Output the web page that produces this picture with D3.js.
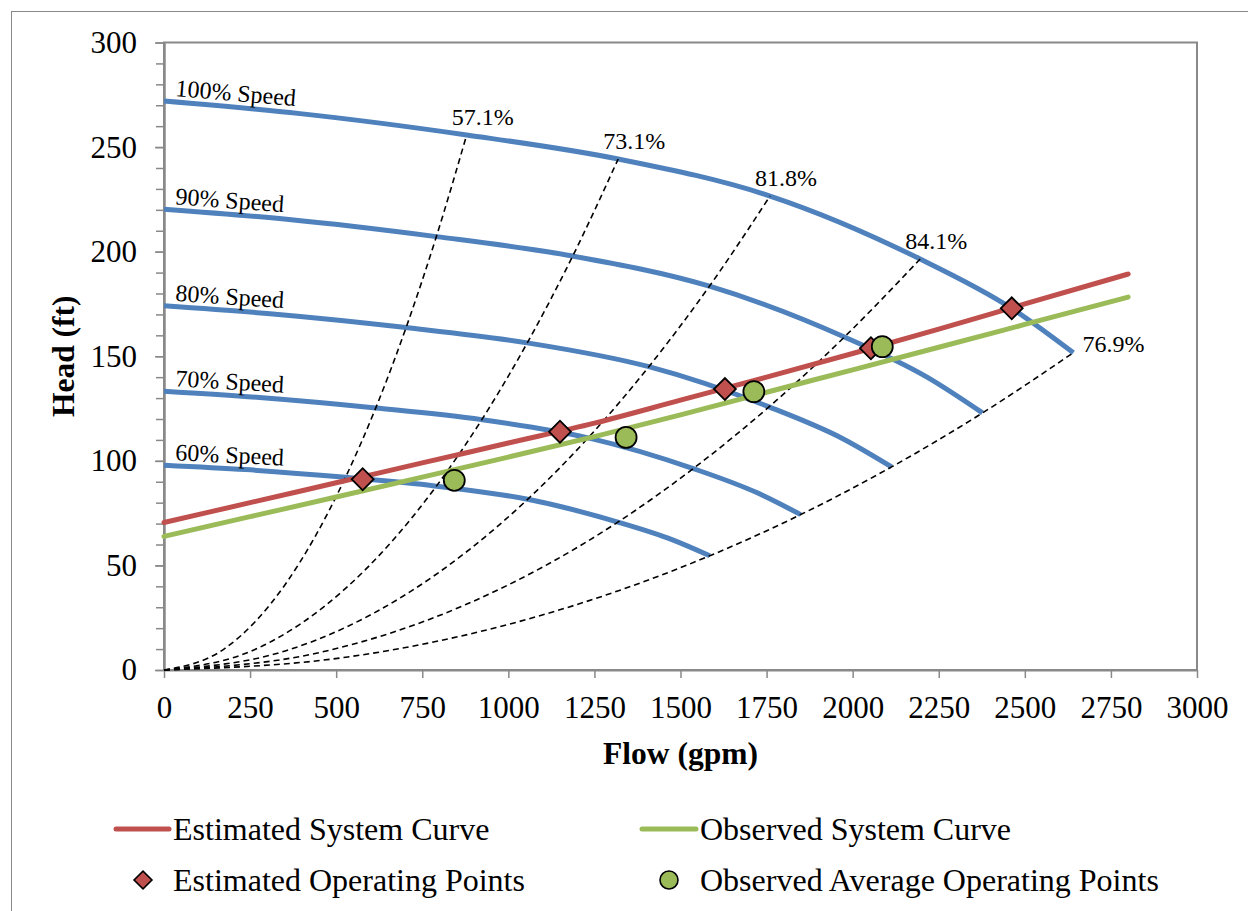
<!DOCTYPE html>
<html>
<head>
<meta charset="utf-8">
<script src="https://cdn.jsdelivr.net/npm/d3@7"></script>
<style>
    body { margin: 0; background: #fff; }
    svg text { font-family: "Liberation Serif", "Times New Roman", serif; fill: #000; }
</style>
</head>
<body>
<svg id="chart" width="1248" height="911"></svg>
<script>
// Pump speed curves (flow gpm / head ft)
const speedLabels = ['100% Speed', '90% Speed', '80% Speed', '70% Speed', '60% Speed'];
const flow100 = [0, 395, 879, 1319, 1760, 2196, 2462, 2641];
const head100 = [272, 266, 255.8, 244.3, 226.6, 196.5, 172.9, 151.7];
const flow90 = [0, 356, 791, 1187, 1584, 1976, 2216, 2377];
const head90 = [220.3, 215.5, 207.2, 197.9, 183.5, 159.2, 140.0, 122.9];
const flow80 = [0, 316, 703, 1055, 1408, 1757, 1970, 2113];
const head80 = [174.1, 170.2, 163.7, 156.4, 145.0, 125.8, 110.7, 97.1];
const flow70 = [0, 277, 615, 923, 1232, 1537, 1723, 1849];
const head70 = [133.3, 130.3, 125.3, 119.7, 111.0, 96.3, 84.7, 74.3];
const flow60 = [0, 237, 527, 791, 1056, 1318, 1477, 1585];
const head60 = [97.9, 95.8, 92.1, 87.9, 81.6, 70.7, 62.2, 54.6];

// Efficiency lines (dashed)
const effLabels = ['57.1%', '73.1%', '81.8%', '84.1%', '76.9%'];
const effFlow571 = [0, 176, 352, 527, 615, 703, 791, 879];
const effHead571 = [0, 10.2, 40.9, 92.1, 125.3, 163.7, 207.2, 255.8];
const effFlow731 = [0, 264, 528, 791, 923, 1055, 1187, 1319];
const effHead731 = [0, 9.8, 39.1, 87.9, 119.7, 156.4, 197.9, 244.3];
const effFlow818 = [0, 352, 704, 1056, 1232, 1408, 1584, 1760];
const effHead818 = [0, 9.1, 36.3, 81.6, 111.0, 145.0, 183.5, 226.6];
const effFlow841 = [0, 439, 878, 1318, 1537, 1757, 1976, 2196];
const effHead841 = [0, 7.9, 31.4, 70.7, 96.3, 125.8, 159.2, 196.5];
const effFlow769 = [0, 528, 1056, 1585, 1849, 2113, 2377, 2641];
const effHead769 = [0, 6.1, 24.3, 54.6, 74.3, 97.1, 122.9, 151.7];

// System curves
const sysFlow = [0, 250, 500, 750, 1000, 1250, 1500, 1750, 2000, 2250, 2500, 2800];
const estSysHead = [70.5, 80, 89.5, 99, 108.5, 118, 129, 140, 151.3, 163, 175, 189.3];
const obsSysHead = [63.9, 73.3, 82.7, 92.2, 101.8, 111.6, 122, 132.8, 143.5, 154.3, 165.2, 178.3];

// Operating points
const estPtFlow = [577, 1150, 1629, 2053, 2462];
const estPtHead = [91.2, 113.9, 134.3, 153.8, 172.9];
const obsPtFlow = [843, 1342, 1713, 2086];
const obsPtHead = [90.7, 111.2, 133.1, 154.6];

const xTicks = d3.range(0, 3001, 250);
const yMajor = d3.range(0, 301, 50);
const yMinor = d3.range(0, 301, 10);

const colors = { blue: '#4f81bd', red: '#c0504d', green: '#9bbb59', axis: '#898989' };

const zip = (xs, ys) => xs.map((q, i) => ({ q: q, h: ys[i] }));

const speedCurves = [
    zip(flow100, head100), zip(flow90, head90), zip(flow80, head80),
    zip(flow70, head70), zip(flow60, head60)
];
const effCurves = [
    zip(effFlow571, effHead571), zip(effFlow731, effHead731), zip(effFlow818, effHead818),
    zip(effFlow841, effHead841), zip(effFlow769, effHead769)
];

const svg = d3.select('#chart');
const plotLeft = 164, plotTop = 42.5, plotRight = 1197, plotBottom = 670;

const x = d3.scaleLinear().domain([0, 3000]).range([plotLeft, plotRight]);
const y = d3.scaleLinear().domain([0, 300]).range([plotBottom, plotTop]);

// Outer chart border
svg.append('rect')
    .attr('x', 11.5).attr('y', 11.5).attr('width', 1400).attr('height', 1000)
    .attr('fill', '#fff').attr('stroke', colors.axis).attr('stroke-width', 1);

// Plot frame
svg.append('rect')
    .attr('x', plotLeft).attr('y', plotTop).attr('width', plotRight - plotLeft).attr('height', plotBottom - plotTop)
    .attr('fill', '#fff').attr('stroke', colors.axis).attr('stroke-width', 2);

// Axes
const yMinorAxis = svg.append('g').attr('transform', `translate(${plotLeft},0)`)
    .call(d3.axisLeft(y).tickValues(yMinor).tickSize(8).tickSizeOuter(0).tickFormat(''));
const yAxis = svg.append('g').attr('transform', `translate(${plotLeft},0)`)
    .call(d3.axisLeft(y).tickValues(yMajor).tickSize(9).tickSizeOuter(0).tickPadding(18).tickFormat(d3.format('d')));
const xAxis = svg.append('g').attr('transform', `translate(0,${plotBottom})`)
    .call(d3.axisBottom(x).tickValues(xTicks).tickSize(8).tickSizeOuter(0).tickPadding(18).tickFormat(d3.format('d')));

[yMinorAxis, yAxis, xAxis].forEach(g => {
    g.selectAll('path.domain').attr('stroke', colors.axis).attr('stroke-width', 2);
    g.selectAll('.tick line').attr('stroke', colors.axis).attr('stroke-width', 1.5);
    g.selectAll('.tick text').attr('font-size', '31px').attr('font-family', '"Liberation Serif", serif').attr('fill', '#000');
});

// Axis titles
svg.append('text')
    .attr('x', (plotLeft + plotRight) / 2).attr('y', 764)
    .attr('text-anchor', 'middle').attr('font-size', '31.5px').attr('font-weight', 'bold')
    .text('Flow (gpm)');
svg.append('text')
    .attr('transform', `translate(74,${(plotTop + plotBottom) / 2}) rotate(-90)`)
    .attr('text-anchor', 'middle').attr('font-size', '31.5px').attr('font-weight', 'bold')
    .text('Head (ft)');

const smooth = d3.line().x(d => x(d.q)).y(d => y(d.h)).curve(d3.curveMonotoneX);

// Pump speed curves
svg.append('g').selectAll('path')
    .data(speedCurves).enter().append('path')
    .attr('d', smooth)
    .attr('fill', 'none')
    .attr('stroke', colors.blue)
    .attr('stroke-width', 5);

// Efficiency lines
svg.append('g').selectAll('path')
    .data(effCurves).enter().append('path')
    .attr('d', smooth)
    .attr('fill', 'none')
    .attr('stroke', '#000')
    .attr('stroke-width', 1.6)
    .attr('stroke-dasharray', '6,4');

// System curves
svg.append('path')
    .datum(zip(sysFlow, estSysHead))
    .attr('d', smooth)
    .attr('fill', 'none').attr('stroke', colors.red).attr('stroke-width', 5).attr('stroke-linecap', 'round');
svg.append('path')
    .datum(zip(sysFlow, obsSysHead))
    .attr('d', smooth)
    .attr('fill', 'none').attr('stroke', colors.green).attr('stroke-width', 5).attr('stroke-linecap', 'round');

// Speed labels, tilted along the start of each curve
speedCurves.forEach((c, i) => {
    const x0 = x(c[0].q), y0 = y(c[0].h);
    const ang = Math.atan2(y(c[1].h) - y0, x(c[1].q) - x0) * 180 / Math.PI;
    const lx = x0 + 11, ly = y0 - 5;
    svg.append('text')
        .attr('x', lx).attr('y', ly)
        .attr('transform', `rotate(${ang * 0.9},${lx},${ly})`)
        .attr('font-size', '24px')
        .text(speedLabels[i]);
});

// Efficiency labels at the top of each dashed line
effCurves.forEach((c, i) => {
    const end = c[c.length - 1];
    const atCurveEnd = i === effCurves.length - 1;
    svg.append('text')
        .attr('x', x(end.q) + (atCurveEnd ? 9 : -15))
        .attr('y', y(end.h) + (atCurveEnd ? -1 : -10))
        .attr('font-size', '24px')
        .text(effLabels[i]);
});

// Operating points
const diamond = d3.symbol().type(d3.symbolSquare).size(240);
svg.append('g').selectAll('path')
    .data(zip(estPtFlow, estPtHead)).enter().append('path')
    .attr('d', diamond)
    .attr('transform', d => `translate(${x(d.q)},${y(d.h)}) rotate(45)`)
    .attr('fill', colors.red).attr('stroke', '#000').attr('stroke-width', 1.8);

svg.append('g').selectAll('circle')
    .data(zip(obsPtFlow, obsPtHead)).enter().append('circle')
    .attr('cx', d => x(d.q)).attr('cy', d => y(d.h)).attr('r', 10.5)
    .attr('fill', colors.green).attr('stroke', '#000').attr('stroke-width', 1.8);

// Legend
const legend = svg.append('g').attr('font-size', '32px');
legend.append('line').attr('x1', 116).attr('x2', 169).attr('y1', 829).attr('y2', 829)
    .attr('stroke', colors.red).attr('stroke-width', 5).attr('stroke-linecap', 'round');
legend.append('text').attr('x', 173).attr('y', 840).text('Estimated System Curve');
legend.append('line').attr('x1', 642).attr('x2', 696).attr('y1', 829).attr('y2', 829)
    .attr('stroke', colors.green).attr('stroke-width', 5).attr('stroke-linecap', 'round');
legend.append('text').attr('x', 700).attr('y', 840).text('Observed System Curve');
legend.append('path').attr('d', d3.symbol().type(d3.symbolSquare).size(160))
    .attr('transform', 'translate(143,880) rotate(45)')
    .attr('fill', colors.red).attr('stroke', '#000').attr('stroke-width', 1.6);
legend.append('text').attr('x', 173).attr('y', 891).text('Estimated Operating Points');
legend.append('circle').attr('cx', 669).attr('cy', 880).attr('r', 9)
    .attr('fill', colors.green).attr('stroke', '#000').attr('stroke-width', 1.6);
legend.append('text').attr('x', 700).attr('y', 891).text('Observed Average Operating Points');
</script>
</body>
</html>
